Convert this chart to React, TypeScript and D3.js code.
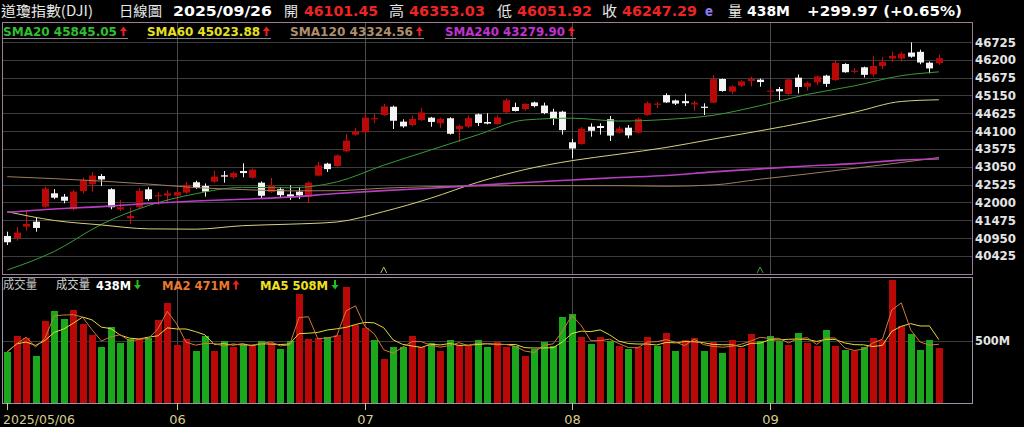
import React from 'react';
import * as d3 from 'd3';

const dates = [
  '2025-05-06','2025-05-07','2025-05-08','2025-05-09','2025-05-12','2025-05-13','2025-05-14','2025-05-15','2025-05-16','2025-05-19',
  '2025-05-20','2025-05-21','2025-05-22','2025-05-23','2025-05-27','2025-05-28','2025-05-29','2025-05-30',
  '2025-06-02','2025-06-03','2025-06-04','2025-06-05','2025-06-06','2025-06-09','2025-06-10','2025-06-11','2025-06-12','2025-06-13',
  '2025-06-16','2025-06-17','2025-06-18','2025-06-20','2025-06-23','2025-06-24','2025-06-25','2025-06-26','2025-06-27','2025-06-30',
  '2025-07-01','2025-07-02','2025-07-03','2025-07-07','2025-07-08','2025-07-09','2025-07-10','2025-07-11','2025-07-14','2025-07-15',
  '2025-07-16','2025-07-17','2025-07-18','2025-07-21','2025-07-22','2025-07-23','2025-07-24','2025-07-25','2025-07-28','2025-07-29',
  '2025-07-30','2025-07-31',
  '2025-08-01','2025-08-04','2025-08-05','2025-08-06','2025-08-07','2025-08-08','2025-08-11','2025-08-12','2025-08-13','2025-08-14',
  '2025-08-15','2025-08-18','2025-08-19','2025-08-20','2025-08-21','2025-08-22','2025-08-25','2025-08-26','2025-08-27','2025-08-28',
  '2025-08-29',
  '2025-09-02','2025-09-03','2025-09-04','2025-09-05','2025-09-08','2025-09-09','2025-09-10','2025-09-11','2025-09-12','2025-09-15',
  '2025-09-16','2025-09-17','2025-09-18','2025-09-19','2025-09-22','2025-09-23','2025-09-24','2025-09-25','2025-09-26',
];

const opens = [
  41014, 40946, 41288, 41435, 41876, 42270, 42171, 41800, 42336, 42535,
  42780, 42390, 41797, 41535, 41859, 42387, 42191, 42200,
  42200, 42290, 42595, 42486, 42613, 42800, 42742, 42927, 42730, 42583,
  42309, 42390, 42240, 42318, 42171, 42790, 43143, 43075, 43507, 43997,
  44066, 44450, 44574, 44820, 44380, 44280, 44428, 44497, 44332, 44480,
  44155, 44232, 44597, 44370, 44310, 44655, 44810, 44749, 44946, 44855,
  44673, 44673,
  43772, 43723, 44232, 44252, 44450, 44056, 44202, 44056, 44574, 44887,
  45163, 45005, 44985, 44887, 44820, 44940, 45636, 45262, 45439, 45577,
  45616,
  45270, 45340, 45194, 45675, 45410, 45538, 45734, 45606, 46077, 45851,
  45980, 45773, 46018, 46239, 46239, 46415, 46436, 46115, 46101.45,
];

const highs = [
  41140, 41279, 41779, 41544, 42470, 42395, 42249, 42370, 42730, 42898,
  42838, 42420, 42074, 41858, 42420, 42450, 42300, 42360,
  42360, 42600, 42640, 42560, 42937, 42927, 42910, 43154, 43000, 42620,
  42721, 42450, 42506, 42460, 42620, 43200, 43170, 43420, 44007, 44200,
  44627, 44600, 44900, 44850, 44450, 44560, 44780, 44520, 44500, 44510,
  44290, 44560, 44620, 44627, 44560, 45060, 44940, 44920, 44970, 44940,
  44760, 44700,
  43870, 44220, 44330, 44330, 44547, 44240, 44280, 44500, 44970, 44960,
  45213, 45030, 45203, 44990, 44920, 45757, 45650, 45450, 45600, 45700,
  45650,
  45362, 45400, 45650, 45770, 45560, 45740, 45760, 46180, 46100, 45960,
  46000, 46307, 46280, 46440, 46440, 46714, 46500, 46150, 46353.03,
];

const lows = [
  40749, 40875, 41170, 41140, 41850, 42100, 41976, 41760, 42270, 42318,
  42486, 41800, 41750, 41367, 41840, 42050, 41926, 41976,
  42050, 42250, 42400, 42171, 42580, 42583, 42700, 42742, 42700, 42103,
  42280, 42150, 42074, 42100, 41976, 42770, 42900, 43050, 43480, 43970,
  44040, 44332, 44550, 44163, 44200, 44250, 44400, 44230, 44200, 44000,
  43781, 44200, 44250, 44300, 44280, 44630, 44680, 44700, 44800, 44600,
  44280, 44000,
  43301, 43700, 43938, 44000, 43810, 44030, 43890, 44030, 44550, 44778,
  44930, 44870, 44840, 44700, 44574, 44920, 45260, 45200, 45400, 45420,
  45410,
  44967, 45016, 45170, 45210, 45300, 45450, 45400, 45580, 45820, 45800,
  45680, 45700, 45930, 46140, 46150, 46260, 46070, 45803, 46051.92,
];

const closes = [
  40829.00, 41113.97, 41368.45, 41249.38, 42410.10, 42140.43, 42051.06, 42322.75, 42654.74, 42792.07,
  42677.24, 41860.44, 41859.09, 41603.07, 42343.65, 42098.70, 42215.73, 42270.07,
  42305.48, 42519.64, 42427.74, 42319.74, 42762.87, 42761.76, 42866.87, 42865.77, 42967.62, 42197.79,
  42515.09, 42215.80, 42171.66, 42206.82, 42581.78, 43089.02, 42982.43, 43386.84, 43819.27, 44094.77,
  44494.94, 44484.42, 44828.53, 44406.36, 44240.76, 44458.30, 44650.64, 44371.51, 44459.65, 44023.29,
  44254.78, 44484.49, 44342.19, 44323.07, 44502.44, 45010.29, 44693.91, 44901.92, 44837.56, 44632.99,
  44461.28, 44130.98,
  43588.58, 44173.64, 44111.74, 44193.12, 43968.64, 44175.61, 43975.09, 44458.61, 44922.27, 44911.82,
  44946.12, 44911.26, 44922.27, 44938.31, 44785.50, 45631.74, 45282.47, 45418.07, 45565.23, 45636.90,
  45544.88,
  45295.81, 45271.23, 45621.29, 45400.86, 45514.95, 45711.34, 45490.92, 46108.00, 45834.22, 45883.45,
  45757.90, 46018.32, 46142.42, 46315.27, 46381.54, 46292.78, 46121.28, 45947.32, 46247.29,
];

const prevClose = 41218.83; // close before the first day shown

// volume in millions
const volumes = [
  411, 538, 519, 379, 661, 742, 672, 748, 632, 546,
  449, 613, 484, 511, 511, 524, 667, 806, 465, 511,
  417, 538, 417, 497, 452, 473, 457, 497, 484, 433,
  497, 876, 511, 519, 527, 546, 935, 627, 605, 505,
  350, 447, 447, 538, 447, 479, 417, 505, 463, 457,
  505, 447, 487, 452, 457, 376, 433, 492, 457, 694,
  715, 527, 473, 527, 497, 457, 433, 452, 527, 457,
  560, 417, 505, 519, 417, 492, 403, 505, 439, 554,
  500, 538, 500, 465, 565, 484, 457, 586, 457, 425,
  417, 447, 519, 505, 990, 620, 554, 425, 504, 438,
];

// moving averages at these day indices
const smaIdx = [0, 5, 10, 15, 20, 25, 30, 35, 40, 45, 50, 55, 60, 65, 70, 75, 80, 85, 90, 95, 99];
const sma20 = [40013, 40560, 41355, 41909, 42256, 42445, 42433, 42604, 43098, 43546, 43993, 44429, 44482, 44397, 44444, 44567, 44850, 45182, 45433, 45733, 45845.05];
const sma60 = [41729, 41470, 41338, 41223, 41214, 41317, 41361, 41426, 41732, 42127, 42595, 42969, 43231, 43422, 43619, 43867, 44111, 44370, 44656, 44974, 45023.88];
const sma120 = [42760, 42701, 42630, 42542, 42439, 42380, 42342, 42347, 42421, 42465, 42486, 42495, 42495, 42495, 42477, 42515, 42686, 42839, 43007, 43175, 43324.56];
const sma240 = [41712, 41809, 41879, 41971, 42044, 42097, 42159, 42265, 42350, 42418, 42509, 42589, 42662, 42736, 42795, 42901, 42989, 43075, 43145, 43248, 43279.90];
const smaPrevUp = [true, true, true, true];

const priceTicks = [40425, 40950, 41475, 42000, 42525, 43050, 43575, 44100, 44625, 45150, 45675, 46200, 46725];
const volTicks = [500];

const W = 1024, H = 427;
const L = 2, R = 972;
const MT = 22, MB = 274;
const VT = 277, VB = 403;

const CJK = '"Noto Sans CJK TC", "Noto Sans CJK SC", sans-serif';
const NUM = '"DejaVu Sans", Verdana, sans-serif';

const RED = '#b80808';
const RED_TXT = '#ee2424';
const GREEN_BAR = '#1ca81c';
const WHITE = '#f4f4f4';

function Arrow({ x, y, up, color }: { x: number; y: number; up: boolean; color: string }) {
  // x: center, y: top of the arrow (9px tall)
  if (up) {
    return (
      <g fill={color}>
        <polygon points={`${x - 3.5},${y + 4.5} ${x},${y} ${x + 3.5},${y + 4.5}`} />
        <rect x={x - 1} y={y + 4} width={2} height={5.5} />
      </g>
    );
  }
  return (
    <g fill={color}>
      <rect x={x - 1} y={y} width={2} height={5.5} />
      <polygon points={`${x - 3.5},${y + 5} ${x},${y + 9.5} ${x + 3.5},${y + 5}`} />
    </g>
  );
}

export default function App() {
  const n = closes.length;
  const x = d3.scaleLinear().domain([0, n - 1]).range([7.3, 938.9]);
  const y = d3.scaleLinear().domain([39900, 47314]).range([273.8, 22]);
  const yv = d3.scaleLinear().domain([0, 500]).range([402.7, 340.7]);

  const monthTicks: { i: number; label: string }[] = [];
  dates.forEach((d, i) => {
    if (i === 0) monthTicks.push({ i, label: d.replace(/-/g, '/') });
    else if (d.slice(5, 7) !== dates[i - 1].slice(5, 7)) monthTicks.push({ i, label: d.slice(5, 7) });
  });

  const smaLine = (vals: number[]) =>
    d3.line<number>().x((_, k) => x(smaIdx[k])).y((v) => y(v)).curve(d3.curveMonotoneX)(vals) || '';

  const ma = (period: number) =>
    volumes.map((_, i) => {
      const s = volumes.slice(Math.max(0, i - period + 1), i + 1);
      return d3.mean(s) as number;
    });
  const ma2 = ma(2);
  const ma5 = ma(5);
  const vLine = (vals: number[]) =>
    d3.line<number>().x((_, i) => x(i)).y((v) => yv(v))(vals) || '';

  const last = n - 1;
  const f2 = d3.format('.2f');
  const chg = closes[last] - closes[last - 1];
  const pct = (chg / closes[last - 1]) * 100;

  const header = [
    { t: '道瓊指數(DJI)', x: 1, w: 92, c: '#e8e8e8', f: CJK, b: false },
    { t: '日線圖', x: 119, w: 43, c: '#e8e8e8', f: CJK, b: false },
    { t: dates[last].replace(/-/g, '/'), x: 173, w: 99, c: '#ffffff', f: NUM, b: true },
    { t: '開', x: 284, w: 14, c: '#e8e8e8', f: CJK, b: false },
    { t: f2(opens[last]), x: 304, w: 74, c: RED_TXT, f: NUM, b: true },
    { t: '高', x: 389, w: 15, c: '#e8e8e8', f: CJK, b: false },
    { t: f2(highs[last]), x: 409, w: 76, c: RED_TXT, f: NUM, b: true },
    { t: '低', x: 497, w: 15, c: '#e8e8e8', f: CJK, b: false },
    { t: f2(lows[last]), x: 517, w: 75, c: RED_TXT, f: NUM, b: true },
    { t: '收', x: 602, w: 15, c: '#e8e8e8', f: CJK, b: false },
    { t: f2(closes[last]), x: 622, w: 75, c: RED_TXT, f: NUM, b: true },
    { t: 'e', x: 705, w: 8, c: '#8c7cf0', f: NUM, b: true },
    { t: '量', x: 728, w: 14, c: '#e8e8e8', f: CJK, b: false },
    { t: `${volumes[last]}M`, x: 747, w: 43, c: '#ffffff', f: NUM, b: true },
    { t: `${chg >= 0 ? '+' : ''}${f2(chg)} (${pct >= 0 ? '+' : ''}${f2(pct)}%)`, x: 807, w: 155, c: '#ffffff', f: NUM, b: true },
  ];

  const smaLegend = [
    { name: 'SMA20', v: sma20, c: '#2fbf2f', line: '#3a9a3a', x: 3, w: 114, lw: 1 },
    { name: 'SMA60', v: sma60, c: '#e6e020', line: '#d6d27a', x: 147, w: 113, lw: 1 },
    { name: 'SMA120', v: sma120, c: '#b08e6c', line: '#9e7e5e', x: 290, w: 123, lw: 1 },
    { name: 'SMA240', v: sma240, c: '#c232d2', line: '#b840c0', x: 445, w: 120, lw: 1.6 },
  ];

  const volPrev = volumes[last - 1];
  const ma2Up = ma2[last] >= ma2[last - 1];
  const ma5Up = ma5[last] >= ma5[last - 1];

  return (
    <svg width={W} height={H} style={{ position: 'absolute', left: 0, top: 0, display: 'block', background: '#000' }}>
      <rect x={0} y={0} width={W} height={H} fill="#000" />

      {/* header */}
      {header.map((h, k) => (
        <text key={k} x={h.x} y={15.5} fill={h.c} fontFamily={h.f} fontWeight={h.b ? 700 : 400}
          fontSize={h.f === CJK ? 14 : 14} textLength={h.w} lengthAdjust="spacingAndGlyphs">{h.t}</text>
      ))}

      {/* main panel grid */}
      <g shapeRendering="crispEdges">
        {priceTicks.map((t) => (
          <line key={t} x1={L} x2={R} y1={Math.round(y(t)) + 0.5} y2={Math.round(y(t)) + 0.5} stroke="#3c3c3c" />
        ))}
        {monthTicks.slice(1).map((m) => (
          <g key={m.i}>
            <line x1={Math.round(x(m.i)) + 0.5} x2={Math.round(x(m.i)) + 0.5} y1={MT} y2={MB} stroke="#4a4a4a" />
            <line x1={Math.round(x(m.i)) + 0.5} x2={Math.round(x(m.i)) + 0.5} y1={VT} y2={VB} stroke="#4a4a4a" />
          </g>
        ))}
        {volTicks.map((t) => (
          <line key={t} x1={L} x2={R} y1={Math.round(yv(t)) + 0.5} y2={Math.round(yv(t)) + 0.5} stroke="#3c3c3c" />
        ))}
      </g>

      {/* candles */}
      <g>
        {closes.map((c, i) => {
          const o = opens[i];
          const up = c >= o;
          const col = up ? RED : WHITE;
          const cx = Math.round(x(i)) + 0.5;
          const top = y(Math.max(o, c));
          const bot = y(Math.min(o, c));
          return (
            <g key={i}>
              <line x1={cx} x2={cx} y1={y(highs[i])} y2={y(lows[i])} stroke={up ? '#c81010' : WHITE} strokeWidth={1} />
              <rect x={cx - 3.5} y={top} width={7} height={Math.max(1.2, bot - top)} fill={col} />
            </g>
          );
        })}
      </g>

      {/* moving averages */}
      <g fill="none">
        {smaLegend.map((s) => (
          <path key={s.name} d={smaLine(s.v)} stroke={s.line} strokeWidth={s.lw} />
        ))}
      </g>

      {/* crossover markers */}
      <polyline points={`${x(40) - 3},273 ${x(40)},267 ${x(40) + 3},273`} fill="none" stroke="#c8b46a" strokeWidth={1} />
      <polyline points={`${x(80) - 3},273 ${x(80)},267 ${x(80) + 3},273`} fill="none" stroke="#3aa03a" strokeWidth={1} />

      {/* SMA legend */}
      {smaLegend.map((s, k) => (
        <g key={s.name}>
          <text x={s.x} y={35.5} fill={s.c} fontFamily={NUM} fontWeight={700} fontSize={12}
            textLength={s.w} lengthAdjust="spacingAndGlyphs">{`${s.name} ${f2(s.v[s.v.length - 1])}`}</text>
          <Arrow x={s.x + s.w + 6.5} y={26.5} up={smaPrevUp[k]} color="#f02020" />
          <line x1={s.x} x2={s.x + s.w + 11} y1={38.5} y2={38.5} stroke="#8a8a8a" shapeRendering="crispEdges" />
        </g>
      ))}

      {/* main border */}
      <rect x={L + 0.5} y={MT + 0.5} width={R - L} height={MB - MT} fill="none" stroke="#a07c94" shapeRendering="crispEdges" />

      {/* price labels */}
      {priceTicks.map((t) => (
        <text key={t} x={975} y={y(t) + 4.5} fill="#e4e4e4" fontFamily={NUM} fontWeight={700} fontSize={12}
          textLength={41} lengthAdjust="spacingAndGlyphs">{t}</text>
      ))}

      {/* volume bars */}
      <g shapeRendering="crispEdges">
        {volumes.map((v, i) => {
          const pc = i === 0 ? prevClose : closes[i - 1];
          const up = closes[i] >= pc;
          const cx = Math.round(x(i));
          return <rect key={i} x={cx - 3.5} y={yv(v)} width={7} height={yv(0) - yv(v)} fill={up ? RED : GREEN_BAR} />;
        })}
      </g>
      <path d={vLine(ma5)} fill="none" stroke="#e6da3a" strokeWidth={1} />
      <path d={vLine(ma2)} fill="none" stroke="#d07a3a" strokeWidth={1} />

      {/* volume border */}
      <rect x={L + 0.5} y={VT + 0.5} width={R - L} height={VB - VT} fill="none" stroke="#9a94a8" shapeRendering="crispEdges" />

      {/* volume legend */}
      <text x={3} y={289} fill="#c4c4c4" fontFamily={CJK} fontSize={12} textLength={34} lengthAdjust="spacingAndGlyphs">成交量</text>
      <text x={56} y={289} fill="#d4d4d4" fontFamily={CJK} fontSize={12} textLength={34} lengthAdjust="spacingAndGlyphs">成交量</text>
      <text x={96} y={289.5} fill="#ffffff" fontFamily={NUM} fontWeight={700} fontSize={12} textLength={35} lengthAdjust="spacingAndGlyphs">{`${volumes[last]}M`}</text>
      <Arrow x={137.5} y={280} up={volumes[last] >= volPrev} color={volumes[last] >= volPrev ? '#f02020' : '#20c020'} />
      <text x={162} y={289.5} fill="#e8782c" fontFamily={NUM} fontWeight={700} fontSize={12} textLength={68} lengthAdjust="spacingAndGlyphs">{`MA2 ${Math.round(ma2[last])}M`}</text>
      <Arrow x={236} y={280} up={ma2Up} color={ma2Up ? '#f02020' : '#20c020'} />
      <text x={260} y={289.5} fill="#f0e020" fontFamily={NUM} fontWeight={700} fontSize={12} textLength={68} lengthAdjust="spacingAndGlyphs">{`MA5 ${Math.round(ma5[last])}M`}</text>
      <Arrow x={335} y={280} up={ma5Up} color={ma5Up ? '#f02020' : '#20c020'} />

      {volTicks.map((t) => (
        <text key={t} x={975} y={yv(t) + 4.5} fill="#e4e4e4" fontFamily={NUM} fontWeight={700} fontSize={12}
          textLength={35} lengthAdjust="spacingAndGlyphs">{`${t}M`}</text>
      ))}

      {/* x axis */}
      {monthTicks.map((m, k) => {
        const tx = Math.round(x(m.i)) + 0.5;
        return (
          <g key={m.i}>
            <line x1={tx} x2={tx} y1={VB} y2={410} stroke="#d2c88c" shapeRendering="crispEdges" />
            <text x={k === 0 ? 3 : tx} y={424} fill="#d8cc90" fontFamily={NUM} fontSize={13}
              textAnchor={k === 0 ? 'start' : 'middle'}
              {...(k === 0 ? { textLength: 72, lengthAdjust: 'spacingAndGlyphs' } : {})}>{m.label}</text>
          </g>
        );
      })}
    </svg>
  );
}
